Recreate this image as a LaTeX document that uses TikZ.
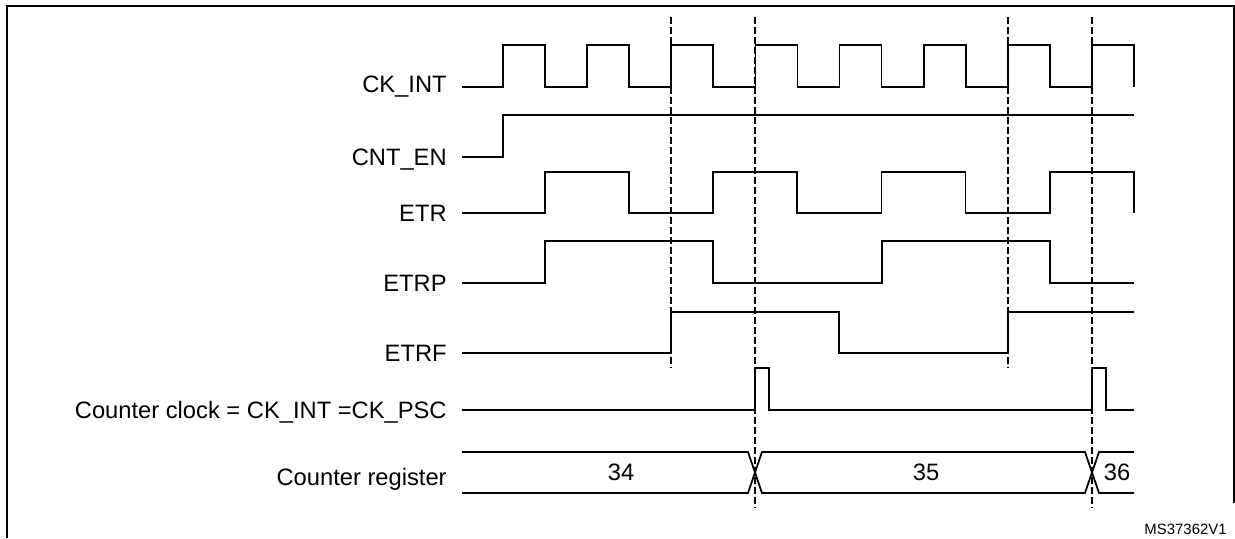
\documentclass[tikz,border=0pt]{standalone}
\usepackage{fontspec}
\setmainfont{Liberation Sans}

\begin{document}
\begin{tikzpicture}[x=0.02cm, y=-0.02cm, font=\fontsize{13.5}{16}\selectfont,
	wave/.style={line width=1pt, line join=miter},
	guide/.style={line width=0.6pt, dash pattern=on 0.14cm off 0.06cm},
	frame/.style={line width=1.5pt},
	signame/.style={anchor=base east, inner sep=0pt},
	busval/.style={inner sep=0pt}]
	
	\useasboundingbox (0,0) rectangle (1235,538);
	
	% Marco abierto por abajo
	\draw[frame] (7,538) -- (7,6) -- (1234,6) -- (1234,503);
	
	% Nombres de las senales
	\node[signame] (ckint) at (447,92) {CK\_INT};
	\node[signame] (cnten) at (447,165) {CNT\_EN};
	\node[signame] (etr) at (447,221) {ETR};
	\node[signame] (etrp) at (447,291) {ETRP};
	\node[signame] (etrf) at (447,361) {ETRF};
	\node[signame] (cntclk) at (447,418) {Counter clock = CK\_INT =CK\_PSC};
	\node[signame] (cntreg) at (447,485) {Counter register};
	
	% Lineas de referencia
	\draw[guide] (671,17) -- (671,367);
	\draw[guide] (755,17) -- (755,508);
	\draw[guide] (1008,17) -- (1008,367);
	\draw[guide] (1092,17) -- (1092,508);
	
	% CK_INT
	\draw[wave] (462,87) foreach \k in {0,...,7} {
		-- ({503+84.14*\k},87) -- ({503+84.14*\k},45)
		-- ({545+84.14*\k},45) -- ({545+84.14*\k},87)};
	
	% CNT_EN
	\draw[wave] (462,157) -- (503,157) -- (503,115) -- (1134,115);
	
	% ETR
	\draw[wave] (462,213) foreach \k in {0,...,3} {
		-- ({545+168.28*\k},213) -- ({545+168.28*\k},172)
		-- ({629+168.28*\k},172) -- ({629+168.28*\k},213)};
	
	% ETRP
	\draw[wave] (462,283) -- (545,283) -- (545,241) -- (713,241) -- (713,283)
		-- (882,283) -- (882,241) -- (1050,241) -- (1050,283) -- (1134,283);
	
	% ETRF
	\draw[wave] (462,353) -- (671,353) -- (671,312) -- (839,312) -- (839,353)
		-- (1008,353) -- (1008,312) -- (1134,312);
	
	% Reloj del contador
	\draw[wave] (462,410) -- (755,410) -- (755,368) -- (769,368) -- (769,410)
		-- (1092,410) -- (1092,368) -- (1106,368) -- (1106,410) -- (1134,410);
	
	% Registro del contador
	\draw[wave] (462,452) -- (748,452) -- (762,493) -- (1085,493) -- (1099,452) -- (1134,452);
	\draw[wave] (462,493) -- (748,493) -- (762,452) -- (1085,452) -- (1099,493) -- (1134,493);
	\node[busval] (v34) at (621,472) {34};
	\node[busval] (v35) at (926,472) {35};
	\node[busval] (v36) at (1117,472) {36};
	
	\node[anchor=east, inner sep=0pt, font=\fontsize{8.5}{10}\selectfont] (ref) at (1227,529) {MS37362V1};
\end{tikzpicture}
\end{document}
